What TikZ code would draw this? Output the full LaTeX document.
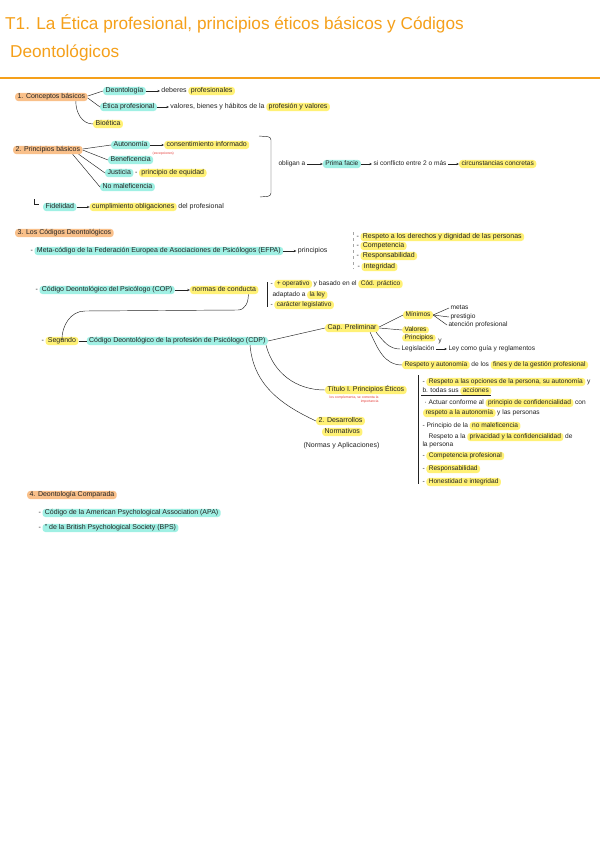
\documentclass[tikz,border=0pt]{standalone}
\usepackage{fontspec}
\setmainfont{Liberation Sans}
\usetikzlibrary{arrows.meta}
\definecolor{hcyan}{HTML}{A0F0E4}
\definecolor{hyel}{HTML}{FFF176}
\definecolor{horg}{HTML}{F9C08A}
\definecolor{torg}{HTML}{F5A01A}
\definecolor{ink}{HTML}{222222}
\definecolor{rednote}{HTML}{E53935}
\tikzset{
 t/.style={font=\fontsize{7}{8}\selectfont, text height=4.9pt, text depth=1.4pt, inner xsep=1.3pt, inner ysep=0.9pt, anchor=west, text=ink},
 sm/.style={font=\fontsize{6.6}{8}\selectfont},
 hc/.style={t, fill=hcyan, rounded corners=3pt, inner xsep=2.4pt},
 hy/.style={t, fill=hyel, rounded corners=3pt, inner xsep=2.4pt},
 ho/.style={t, fill=horg, rounded corners=3pt, inner xsep=2.4pt},
 ttl/.style={font=\fontsize{17.2}{19}\selectfont, text=torg, anchor=base west, inner sep=0pt},
 rn/.style={font=\fontsize{3.4}{4}\selectfont, text=rednote, inner sep=0.5pt},
 ln/.style={draw=ink, line width=0.45pt},
 ar/.style={ln, -{Stealth[length=2.6pt,width=2.2pt]}},
}
\begin{document}
\begin{tikzpicture}[x=1pt,y=-1pt]
\useasboundingbox[fill=white] (0,0) rectangle (600,848);
% title
\node[ttl] (T1) at (5,30) {T1. La Ética profesional, principios éticos básicos y Códigos};
\node[ttl] (T2) at (10,58) {Deontológicos};
\draw[torg, line width=1.3pt] (0,78) -- (600,78);

% 1
\node[ho] (s1) at (15,97) {1. Conceptos básicos};
\node[hc] (deo) at (103,91) {Deontología};
\node[t] (deb) at ([xshift=14pt]deo.east) {deberes};
\node[hy] (prof) at (deb.east) {profesionales};
\draw[ar] (deo) -- (deb);
\node[hc] (etica) at (100,107) {Ética profesional};
\node[t] (val) at ([xshift=12pt]etica.east) {valores, bienes y hábitos de la};
\node[hy] (valy) at (val.east) {profesión y valores};
\draw[ar] (etica) -- (val);
\node[hy] (bio) at (93,124) {Bioética};
\draw[ln] ([yshift=1pt]s1.east) -- (deo.west);
\draw[ln] ([yshift=-1pt]s1.east) -- (etica.west);
\draw[ln] ([xshift=-12pt]s1.south east) to[out=-90,in=180] (bio.west);

% 2
\node[ho] (s2) at (13,150) {2. Principios básicos};
\node[hc] (aut) at (111,145) {Autonomía};
\node[hy] (cons) at ([xshift=14pt]aut.east) {consentimiento informado};
\draw[ar] (aut) -- (cons);
\node[rn, anchor=west] (rnote) at (152,154) {(excepciones)};
\node[hc] (ben) at (108,160) {Beneficencia};
\node[hc] (jus) at (105,173) {Justicia};
\node[t] (jd) at (jus.east) {-};
\node[hy] (eq) at (jd.east) {principio de equidad};
\node[hc] (nom) at (100,187) {No maleficencia};
\draw[ln] ([yshift=1pt]s2.east) -- (aut.west);
\draw[ln] (s2.east) -- (ben.west);
\draw[ln] ([xshift=-4pt]s2.south east) -- (jus.west);
\draw[ln] ([xshift=-10pt]s2.south east) -- (nom.west);
\draw[ln, rounded corners=3pt] (259,136) -- (271,137) -- (271,196) -- (260,197);
\node[t, sm] (obl) at (277,164) {obligan a};
\node[hc, sm] (pf) at ([xshift=16pt]obl.east) {Prima facie};
\draw[ar] (obl) -- (pf);
\node[t, sm] (conf) at ([xshift=11pt]pf.east) {si conflicto entre 2 o más};
\draw[ar] (pf) -- (conf);
\node[hy, sm] (circ) at ([xshift=11pt]conf.east) {circunstancias concretas};
\draw[ar] (conf) -- (circ);
\draw[ln] (34,199) -- (34,204) -- (39,204);
\node[hc] (fid) at (43,207) {Fidelidad};
\node[hy] (cump) at ([xshift=13pt]fid.east) {cumplimiento obligaciones};
\draw[ar] (fid) -- (cump);
\node[t] (delp) at (cump.east) {del profesional};

% 3
\node[ho] (s3) at (15,233) {3. Los Códigos Deontológicos};
\node[t] (d31) at (29,251) {-};
\node[hc] (efpa) at (d31.east) {Meta-código de la Federación Europea de Asociaciones de Psicólogos (EFPA)};
\node[t] (prin) at ([xshift=13pt]efpa.east) {principios};
\draw[ar] (efpa) -- (prin);
\draw[ln, draw=black!35, dashed] (353,232) -- (353,269);
\node[t] (r1d) at (355,237) {-};
\node[hy] (r1) at (r1d.east) {Respeto a los derechos y dignidad de las personas};
\node[t] (r2d) at (355,246) {-};
\node[hy] (r2) at (r2d.east) {Competencia};
\node[t] (r3d) at (355,256) {-};
\node[hy] (r3) at (r3d.east) {Responsabilidad};
\node[t] (r4d) at (356,267) {-};
\node[hy] (r4) at (r4d.east) {Integridad};

\node[t] (d32) at (34,290) {-};
\node[hc] (cop) at (d32.east) {Código Deontológico del Psicólogo (COP)};
\node[hy] (norm) at ([xshift=15pt]cop.east) {normas de conducta};
\draw[ar] (cop) -- (norm);
\draw[ln] (267,282) -- (267,307);
\node[t, sm] (c1d) at (269,284) {-};
\node[hy, sm] (c1) at (c1d.east) {+ operativo};
\node[t, sm] (c1b) at (c1.east) {y basado en el};
\node[hy, sm] (c1c) at (c1b.east) {Cód. práctico};
\node[t, sm] (c2) at (271,295) {adaptado a};
\node[hy, sm] (c2b) at (c2.east) {la ley};
\node[t, sm] (c3d) at (269,305) {-};
\node[hy, sm] (c3) at (c3d.east) {carácter legislativo};

\node[t] (d33) at (40,341) {-};
\node[hy] (seg) at (d33.east) {Segundo};
\node[hc] (cdp) at ([xshift=8pt]seg.east) {Código Deontológico de la profesión de Psicólogo (CDP)};
\draw[ln] (seg) -- (cdp);
\coordinate (k1) at (238,310);
\coordinate (k2) at (85,311);
\draw[ar] ([xshift=-10pt]norm.south east) to[out=-90,in=0] (k1) -- (k2) to[out=180,in=90] ([yshift=-4pt]seg.north);

\node[hy] (cap) at (325,328) {Cap. Preliminar};
\draw[ln] (cdp.east) -- (cap.west);
\node[hy, sm] (min) at (403,315) {Mínimos};
\draw[ln] ([yshift=1pt]cap.east) -- (min.west);
\node[t, sm] (me) at (449,308) {metas};
\node[t, sm] (pre) at (449,317) {prestigio};
\node[t, sm] (atp) at (447,325) {atención profesional};
\draw[ln] (min.east) -- (me.west);
\draw[ln] (min.east) -- (pre.west);
\draw[ln] (min.east) -- (atp.west);
\node[hy, sm, inner ysep=0.3pt] (valo) at (402,330) {Valores};
\node[hy, sm, inner ysep=0.3pt] (prin2) at (402,338) {Principios};
\node[t, sm] (yy) at ([xshift=1pt,yshift=-3pt]prin2.east) {y};
\draw[ln] (cap.east) -- (valo.west);
\node[t, sm] (leg) at (400,349) {Legislación};
\node[t, sm] (ley) at ([xshift=11pt]leg.east) {Ley como guía y reglamentos};
\draw[ar] (leg) -- (ley);
\draw[ln] ([xshift=-3pt]cap.south east) to[out=-50,in=180] (leg.west);
\node[hy, sm] (resp) at (402,365) {Respeto y autonomía};
\node[t, sm] (delos) at (resp.east) {de los};
\node[hy, sm] (fines) at (delos.east) {fines y de la gestión profesional};
\draw[ln] ([xshift=-9pt]cap.south east) to[out=-65,in=180] (resp.west);

\node[hy] (tit) at (325,390) {Título I. Principios Éticos};
\node[rn, anchor=north west, align=right] (rn2) at (329,395) {los complementa, se comenta la\\importancia};
\draw[ln] ([xshift=-2pt]cdp.south east) to[out=-75,in=180] (tit.west);
\node[hy] (des) at (316,421) {2. Desarrollos};
\node[hy] (nor) at (322,432) {Normativos};
\node[t] (nyap) at (302,446) {(Normas y Aplicaciones)};
\draw[ln] ([xshift=-18pt]cdp.south east) to[out=-85,in=155] (des.west);

\draw[ln] (418,375) -- (418,484);
\node[t, sm] (p1d) at (421,382) {-};
\node[hy, sm] (p1) at (p1d.east) {Respeto a las opciones de la persona, su autonomía};
\node[t, sm] (p1y) at (p1.east) {y};
\node[t, sm] (p2) at (421,391) {b. todas sus};
\node[hy, sm] (p2b) at (p2.east) {acciones};
\draw[ln] (p2.south west) -- (p2b.south east);
\node[t, sm] (p3) at (423,403) {· Actuar conforme al};
\node[hy, sm] (p3b) at (p3.east) {principio de confidencialidad};
\node[t, sm] (p3c) at (p3b.east) {con};
\node[hy, sm] (p4) at (423,413) {respeto a la autonomía};
\node[t, sm] (p4b) at (p4.east) {y las personas};
\node[t, sm] (p5) at (421,426) {- Principio de la};
\node[hy, sm] (p5b) at (p5.east) {no maleficencia};
\node[t, sm] (p6) at (427,437) {Respeto a la};
\node[hy, sm] (p6b) at (p6.east) {privacidad y la confidencialidad};
\node[t, sm] (p6c) at (p6b.east) {de};
\node[t, sm] (p7) at (421,445) {la persona};
\node[t, sm] (p8d) at (421,456) {-};
\node[hy, sm] (p8) at (p8d.east) {Competencia profesional};
\node[t, sm] (p9d) at (421,469) {-};
\node[hy, sm] (p9) at (p9d.east) {Responsabilidad};
\node[t, sm] (p10d) at (421,482) {-};
\node[hy, sm] (p10) at (p10d.east) {Honestidad e integridad};

% 4
\node[ho] (s4) at (27,495) {4. Deontología Comparada};
\node[t] (d41) at (37,513) {-};
\node[hc] (apa) at (d41.east) {Código de la American Psychological Association (APA)};
\node[t] (d42) at (37,528) {-};
\node[hc] (bps) at (d42.east) {" de la British Psychological Society (BPS)};
\end{tikzpicture}
\end{document}
